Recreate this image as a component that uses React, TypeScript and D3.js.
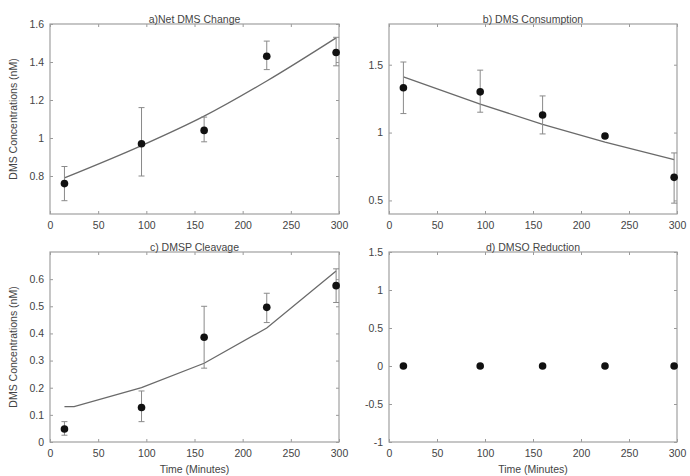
import React, { useEffect, useRef } from 'react';
import * as d3 from 'd3';

// sampling times (minutes)
const times = [15, 95, 160, 225, 297];

// a) net DMS change
const netMean = [0.76, 0.97, 1.04, 1.43, 1.45];
const netLow = [0.67, 0.8, 0.98, 1.36, 1.38];
const netHigh = [0.85, 1.16, 1.11, 1.51, 1.53];
const netModelT = [15, 95, 160, 225, 297];
const netModel = [0.79, 0.96, 1.115, 1.3, 1.527];

// b) DMS consumption
const consMean = [1.33, 1.3, 1.13, 0.975, 0.67];
const consLow = [1.14, 1.15, 0.99, 0.96, 0.48];
const consHigh = [1.52, 1.46, 1.27, 0.99, 0.85];
const consModelT = [15, 95, 160, 225, 297];
const consModel = [1.41, 1.21, 1.06, 0.93, 0.8];

// c) DMSP cleavage
const cleavMean = [0.048, 0.127, 0.386, 0.496, 0.576];
const cleavLow = [0.025, 0.075, 0.272, 0.44, 0.514];
const cleavHigh = [0.075, 0.188, 0.5, 0.548, 0.638];
const cleavModelT = [15, 25, 95, 160, 225, 297];
const cleavModel = [0.13, 0.13, 0.2, 0.29, 0.42, 0.63];

// d) DMSO reduction
const dmsoMean = [0, 0, 0, 0, 0];

const xTicks = [0, 50, 100, 150, 200, 250, 300];

const panels = [
  { title: 'a)Net DMS Change', box: [50, 24, 339, 214], y: [0.6, 1.6], yTicks: [0.8, 1, 1.2, 1.4, 1.6],
    mean: netMean, low: netLow, high: netHigh, modelT: netModelT, model: netModel, smooth: true, yLabel: true, xLabel: false },
  { title: 'b) DMS Consumption', box: [389, 24, 677, 214], y: [0.4, 1.8], yTicks: [0.5, 1, 1.5],
    mean: consMean, low: consLow, high: consHigh, modelT: consModelT, model: consModel, smooth: false, yLabel: false, xLabel: false },
  { title: 'c) DMSP Cleavage', box: [50, 252, 339, 442], y: [0, 0.7], yTicks: [0, 0.1, 0.2, 0.3, 0.4, 0.5, 0.6],
    mean: cleavMean, low: cleavLow, high: cleavHigh, modelT: cleavModelT, model: cleavModel, smooth: false, yLabel: true, xLabel: true },
  { title: 'd) DMSO Reduction', box: [389, 252, 677, 442], y: [-1, 1.5], yTicks: [-1, -0.5, 0, 0.5, 1, 1.5],
    mean: dmsoMean, low: null, high: null, modelT: null, model: null, smooth: false, yLabel: false, xLabel: true },
];

const fmt = (v: number) => String(v);

export default function App() {
  const ref = useRef<SVGSVGElement>(null);

  useEffect(() => {
    const svg = d3.select(ref.current);
    svg.selectAll('*').remove();
    const font = '"Liberation Sans", Arial, sans-serif';

    panels.forEach(p => {
      const [x0, y0, x1, y1] = p.box;
      const x = d3.scaleLinear().domain([0, 300]).range([x0, x1]);
      const y = d3.scaleLinear().domain(p.y).range([y1, y0]);
      const g = svg.append('g');

      // inward ticks on all sides
      const addAxis = (axis: any, tr: string, labels: boolean) => {
        const a = g.append('g').attr('transform', tr).call(axis);
        a.select('.domain').remove();
        a.selectAll('.tick line').attr('stroke', '#9a9a9a');
        if (!labels) a.selectAll('.tick text').remove();
        else a.selectAll('.tick text').attr('font-family', font).attr('font-size', 10.5).attr('fill', '#444');
      };
      addAxis(d3.axisBottom(x).tickValues(xTicks).tickSize(-3).tickPadding(8).tickFormat(fmt as any), `translate(0,${y1})`, true);
      addAxis(d3.axisTop(x).tickValues(xTicks).tickSize(-3), `translate(0,${y0})`, false);
      addAxis(d3.axisLeft(y).tickValues(p.yTicks).tickSize(-3).tickPadding(6).tickFormat(fmt as any), `translate(${x0},0)`, true);
      addAxis(d3.axisRight(y).tickValues(p.yTicks).tickSize(-3), `translate(${x1},0)`, false);

      g.append('rect').attr('x', x0).attr('y', y0).attr('width', x1 - x0).attr('height', y1 - y0)
        .attr('fill', 'none').attr('stroke', '#a0a0a0').attr('stroke-width', 1.2);

      g.append('text').attr('x', (x0 + x1) / 2).attr('y', y0 - 1).attr('text-anchor', 'middle')
        .attr('font-family', font).attr('font-size', 10.5).attr('fill', '#444').text(p.title);

      if (p.model && p.modelT) {
        const pts = p.modelT.map((t, i) => [t, p.model![i]] as [number, number]);
        const ln = d3.line().x(d => x(d[0])).y(d => y(d[1]));
        if (p.smooth) ln.curve(d3.curveMonotoneX);
        g.append('path').attr('d', ln(pts))
          .attr('fill', 'none').attr('stroke', '#6a6a6a').attr('stroke-width', 1.3);
      }

      if (p.low && p.high) {
        times.forEach((t, i) => {
          const cx = x(t);
          g.append('line').attr('x1', cx).attr('x2', cx).attr('y1', y(p.low![i])).attr('y2', y(p.high![i]))
            .attr('stroke', '#8a8a8a').attr('stroke-width', 1);
          [p.low![i], p.high![i]].forEach(v => {
            g.append('line').attr('x1', cx - 3).attr('x2', cx + 3).attr('y1', y(v)).attr('y2', y(v))
              .attr('stroke', '#8a8a8a').attr('stroke-width', 1);
          });
        });
      }

      g.selectAll('circle.pt').data(times).enter().append('circle')
        .attr('cx', t => x(t)).attr('cy', (t, i) => y(p.mean[i])).attr('r', 3.8).attr('fill', '#111');

      if (p.yLabel) {
        g.append('text').attr('transform', `translate(17,${(y0 + y1) / 2}) rotate(-90)`).attr('text-anchor', 'middle')
          .attr('font-family', font).attr('font-size', 10.5).attr('fill', '#444').text('DMS Concentrations (nM)');
      }
      if (p.xLabel) {
        g.append('text').attr('x', (x0 + x1) / 2).attr('y', y1 + 31).attr('text-anchor', 'middle')
          .attr('font-family', font).attr('font-size', 10.5).attr('fill', '#444').text('Time (Minutes)');
      }
    });
  }, []);

  return (
    <svg ref={ref} width={690} height={476} style={{ position: 'absolute', left: 0, top: 0, background: '#fff' }} />
  );
}
